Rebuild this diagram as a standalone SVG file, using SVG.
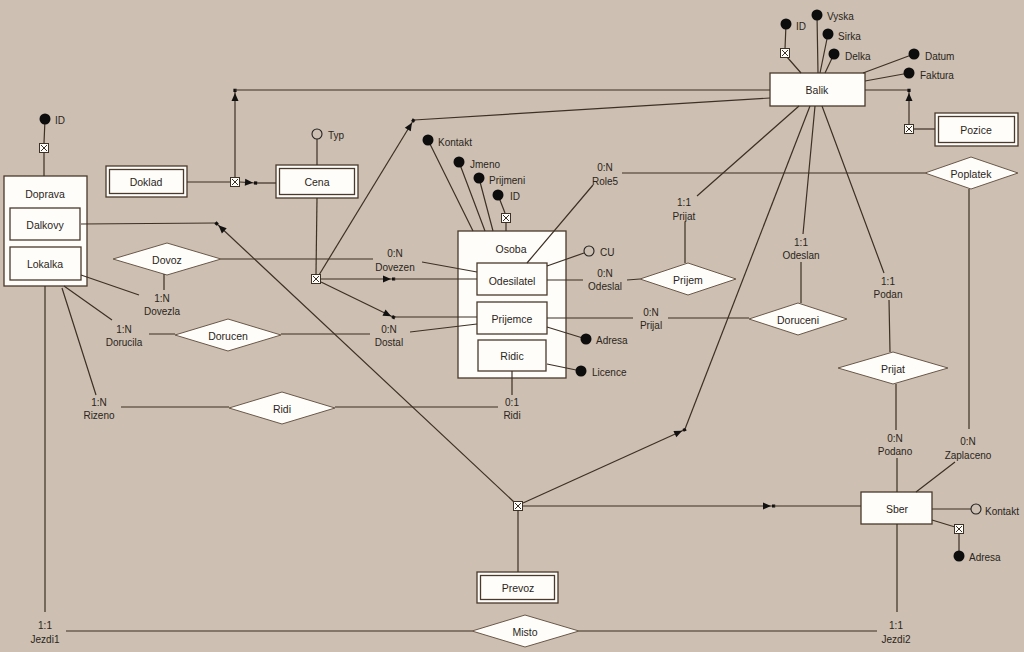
<svg xmlns="http://www.w3.org/2000/svg" xmlns:xlink="http://www.w3.org/1999/xlink" width="1024" height="652" viewBox="0 0 1024 652">
<style>
.ln{stroke:#3d3025;stroke-width:1.2;fill:none}
.ent{fill:#fffdf9;stroke:#4a3a2c;stroke-width:1.3}
.rel{fill:#fffdf9;stroke:#6a5848;stroke-width:1}
.t{font-family:"Liberation Sans",Arial,sans-serif;font-size:10.5px;fill:#2a2520;text-anchor:middle;dominant-baseline:central}
.r{font-size:10px}
.a{text-anchor:start;font-size:10px}
.dot{fill:#0d0d0d}
.oc{fill:none;stroke:#222;stroke-width:1.1}
</style>
<defs>
<marker id="arr" markerUnits="userSpaceOnUse" markerWidth="16" markerHeight="10" refX="0" refY="0" orient="auto" overflow="visible">
<path d="M-10,-3.5 L-2,0 L-10,3.5 Z M-1,-1.6 h3.2 v3.2 h-3.2 Z" fill="#111"/>
</marker>
<g id="xb">
<rect x="-4.5" y="-4.5" width="9" height="9" fill="#fffdf9" stroke="#3d3025" stroke-width="1"/>
<path d="M-3,-3 L3,3 M3,-3 L-3,3" stroke="#3d3025" stroke-width="1"/>
</g>
</defs>
<rect width="1024" height="652" fill="#cdbfb1"/>

<g id="Balik"><rect class="ent" x="770" y="73" width="95" height="33"/><text class="t" x="817" y="90">Balik</text></g>
<g id="Pozice"><rect class="ent" x="935" y="113" width="83" height="33"/><rect class="ent" x="938.5" y="116.5" width="76" height="26"/><text class="t" x="976" y="130">Pozice</text></g>
<g id="Doprava"><rect class="ent" x="4" y="176" width="83" height="110"/><text class="t" x="45" y="194">Doprava</text>
<rect class="ent" x="10" y="208" width="70" height="32"/><text class="t" x="45" y="225">Dalkovy</text>
<rect class="ent" x="10" y="247" width="71" height="33"/><text class="t" x="45" y="264">Lokalka</text></g>
<g id="Doklad"><rect class="ent" x="106" y="166" width="81" height="31"/><rect class="ent" x="109.5" y="169.5" width="74" height="24"/><text class="t" x="146" y="182">Doklad</text></g>
<g id="Cena"><rect class="ent" x="276" y="165" width="82" height="33"/><rect class="ent" x="279.5" y="168.5" width="75" height="26"/><text class="t" x="317" y="182">Cena</text></g>
<g id="Osoba"><rect class="ent" x="458" y="231" width="108" height="147"/><text class="t" x="511" y="249">Osoba</text>
<rect class="ent" x="477" y="263" width="70" height="32"/><text class="t" x="512" y="281">Odesilatel</text>
<rect class="ent" x="477" y="302" width="70" height="32"/><text class="t" x="512" y="319">Prijemce</text>
<rect class="ent" x="478" y="340" width="68" height="31"/><text class="t" x="512" y="356">Ridic</text></g>
<g id="Prevoz"><rect class="ent" x="477" y="572" width="81" height="31"/><rect class="ent" x="480.5" y="575.5" width="74" height="24"/><text class="t" x="518" y="588">Prevoz</text></g>
<g id="Sber"><rect class="ent" x="861" y="492" width="71" height="32"/><text class="t" x="897" y="509">Sber</text></g>

<g id="Dovoz"><polygon class="rel" points="113,259 167,243 221,259 167,275"/><text class="t" x="167" y="260">Dovoz</text></g>
<g id="Dorucen"><polygon class="rel" points="175,335 228,319 281,335 228,351"/><text class="t" x="228" y="336">Dorucen</text></g>
<g id="Ridi"><polygon class="rel" points="229,408 282,392 335,408 282,424"/><text class="t" x="282" y="409">Ridi</text></g>
<g id="Prijem"><polygon class="rel" points="640,279 688,263 736,279 688,295"/><text class="t" x="688" y="280">Prijem</text></g>
<g id="Doruceni"><polygon class="rel" points="749,319 798,303 847,319 798,335"/><text class="t" x="798" y="320">Doruceni</text></g>
<g id="Poplatek"><polygon class="rel" points="925,173 971,157 1018,173 971,189"/><text class="t" x="971" y="174">Poplatek</text></g>
<g id="Prijat"><polygon class="rel" points="838,368 893,352 948,368 893,384"/><text class="t" x="893" y="369">Prijat</text></g>
<g id="Misto"><polygon class="rel" points="472,631 525,615 579,631 525,647"/><text class="t" x="525" y="632">Misto</text></g>

<g id="connectors">
<!-- Balik attributes -->
<path class="ln" d="M786,24 L785,49 M787,57 L801,73"/>
<path class="ln" d="M817,15 L818,73 M828,34 L820,73 M834,54 L825,73 M914,54 L863,73 M909,73 L865,81"/>
<path class="ln" d="M865,90 L909,90"/>
<path class="ln" d="M909,124 L909,91" marker-end="url(#arr)"/>
<path class="ln" d="M914,129 L935,129"/>
<!-- Doprava ID -->
<path class="ln" d="M45,119 L44,143 M44,153 L44,176"/>
<!-- Doklad / Cena -->
<path class="ln" d="M187,182 L230,182"/>
<path class="ln" d="M240,182 L255,183" marker-end="url(#arr)"/>
<path class="ln" d="M257,183 L276,183"/>
<path class="ln" d="M235,177 L235,91" marker-end="url(#arr)"/>
<path class="ln" d="M235,90 L770,90"/>
<path class="ln" d="M317,139 L317,165"/>
<path class="ln" d="M317,198 L316,274"/>
<path class="ln" d="M319,275 L413,121" marker-end="url(#arr)"/>
<path class="ln" d="M414,120 L770,98"/>
<path class="ln" d="M321,279 L393,279" marker-end="url(#arr)"/>
<path class="ln" d="M394,279 L477,279"/>
<path class="ln" d="M321,282 L393,317" marker-end="url(#arr)"/>
<path class="ln" d="M394,317 L477,317"/>
<!-- Dalkovy / Prevoz hub -->
<path class="ln" d="M81,224 L216,223"/>
<path class="ln" d="M514,502 L217,224" marker-end="url(#arr)"/>
<path class="ln" d="M518,511 L518,572"/>
<path class="ln" d="M523,503 L684,430" marker-end="url(#arr)"/>
<path class="ln" d="M685,429 L810,106"/>
<path class="ln" d="M523,506 L773,506" marker-end="url(#arr)"/>
<path class="ln" d="M774,506 L861,506"/>
<!-- Osoba attributes -->
<path class="ln" d="M428,140 L473,231 M459,162 L485,231 M479,178 L493,231 M498,195 L505,213 M506,223 L506,231"/>
<path class="ln" d="M547,266 L584,253 M547,327 L586,339 M547,364 L581,371"/>
<!-- Role5 / Poplatek -->
<path class="ln" d="M527,263 L593,185 M622,173 L925,173"/>
<!-- Odeslal / Prijem -->
<path class="ln" d="M547,280 L583,280 M627,280 L640,279"/>
<path class="ln" d="M685,263 L685,222 M697,196 L799,106"/>
<!-- Prijal / Doruceni -->
<path class="ln" d="M547,318 L633,318 M668,318 L749,318"/>
<path class="ln" d="M801,303 L801,262 M803,234 L815,106"/>
<!-- Podan / Prijat -->
<path class="ln" d="M822,106 L884,273 M889,300 L890,352"/>
<path class="ln" d="M896,384 L896,430 M897,458 L897,492"/>
<!-- Zaplaceno -->
<path class="ln" d="M969,189 L969,429 M955,462 L916,492"/>
<!-- Sber attributes -->
<path class="ln" d="M932,509 L971,509"/>
<path class="ln" d="M932,520 L955,527 M959,534 L959,556"/>
<!-- Doprava roles -->
<path class="ln" d="M81,275 L139,295 M164,274 L164,290"/>
<path class="ln" d="M221,259 L373,259 M422,262 L477,272"/>
<path class="ln" d="M64,286 L112,320 M149,334 L175,334"/>
<path class="ln" d="M281,334 L370,334 M410,332 L477,324"/>
<path class="ln" d="M62,288 L96,395 M121,407 L229,407"/>
<path class="ln" d="M335,407 L498,407 M512,371 L512,395"/>
<path class="ln" d="M45,286 L45,612 M66,631 L472,631"/>
<path class="ln" d="M897,524 L897,612 M579,631 L877,631"/>

<!-- crossed boxes -->
<use xlink:href="#xb" x="785" y="53"/>
<use xlink:href="#xb" x="909" y="129"/>
<use xlink:href="#xb" x="44" y="148"/>
<use xlink:href="#xb" x="235" y="182"/>
<use xlink:href="#xb" x="316" y="279"/>
<use xlink:href="#xb" x="518" y="506"/>
<use xlink:href="#xb" x="506" y="218"/>
<use xlink:href="#xb" x="959" y="529"/>

<!-- attribute circles -->
<circle class="dot" cx="786" cy="24" r="5.5"/>
<circle class="dot" cx="817" cy="15" r="5.5"/>
<circle class="dot" cx="828" cy="34" r="5.5"/>
<circle class="dot" cx="834" cy="54" r="5.5"/>
<circle class="dot" cx="914" cy="54" r="5.5"/>
<circle class="dot" cx="909" cy="73" r="5.5"/>
<circle class="dot" cx="45" cy="119" r="5.5"/>
<circle class="oc" cx="317" cy="134" r="5"/>
<circle class="dot" cx="428" cy="140" r="5.5"/>
<circle class="dot" cx="459" cy="162" r="5.5"/>
<circle class="dot" cx="479" cy="178" r="5.5"/>
<circle class="dot" cx="498" cy="195" r="5.5"/>
<circle class="oc" cx="589" cy="251" r="5"/>
<circle class="dot" cx="586" cy="339" r="5.5"/>
<circle class="dot" cx="581" cy="371" r="5.5"/>
<circle class="oc" cx="976" cy="509" r="5"/>
<circle class="dot" cx="959" cy="556" r="5.5"/>

<!-- attribute labels -->
<text class="t a" x="796" y="26">ID</text>
<text class="t a" x="827" y="16">Vyska</text>
<text class="t a" x="838" y="36">Sirka</text>
<text class="t a" x="845" y="56">Delka</text>
<text class="t a" x="925" y="56">Datum</text>
<text class="t a" x="920" y="75">Faktura</text>
<text class="t a" x="55" y="120">ID</text>
<text class="t a" x="328" y="135">Typ</text>
<text class="t a" x="438" y="142">Kontakt</text>
<text class="t a" x="470" y="164">Jmeno</text>
<text class="t a" x="489" y="180">Prijmeni</text>
<text class="t a" x="510" y="196">ID</text>
<text class="t a" x="600" y="252">CU</text>
<text class="t a" x="596" y="340">Adresa</text>
<text class="t a" x="592" y="372">Licence</text>
<text class="t a" x="985" y="511">Kontakt</text>
<text class="t a" x="969" y="557">Adresa</text>

<!-- role labels -->
<text class="t r" x="605" y="167">0:N</text><text class="t r" x="605" y="181">Role5</text>
<text class="t r" x="605" y="273">0:N</text><text class="t r" x="605" y="286">Odeslal</text>
<text class="t r" x="684" y="202">1:1</text><text class="t r" x="684" y="216">Prijat</text>
<text class="t r" x="651" y="312">0:N</text><text class="t r" x="651" y="325">Prijal</text>
<text class="t r" x="801" y="242">1:1</text><text class="t r" x="801" y="255">Odeslan</text>
<text class="t r" x="888" y="281">1:1</text><text class="t r" x="888" y="294">Podan</text>
<text class="t r" x="895" y="438">0:N</text><text class="t r" x="895" y="451">Podano</text>
<text class="t r" x="968" y="441">0:N</text><text class="t r" x="968" y="455">Zaplaceno</text>
<text class="t r" x="162" y="298">1:N</text><text class="t r" x="162" y="311">Dovezla</text>
<text class="t r" x="395" y="253">0:N</text><text class="t r" x="395" y="267">Dovezen</text>
<text class="t r" x="124" y="329">1:N</text><text class="t r" x="124" y="342">Dorucila</text>
<text class="t r" x="389" y="329">0:N</text><text class="t r" x="389" y="342">Dostal</text>
<text class="t r" x="99" y="402">1:N</text><text class="t r" x="99" y="415">Rizeno</text>
<text class="t r" x="512" y="402">0:1</text><text class="t r" x="512" y="415">Ridi</text>
<text class="t r" x="45" y="625">1:1</text><text class="t r" x="45" y="639">Jezdi1</text>
<text class="t r" x="896" y="625">1:1</text><text class="t r" x="896" y="639">Jezdi2</text>
</g>
</svg>
